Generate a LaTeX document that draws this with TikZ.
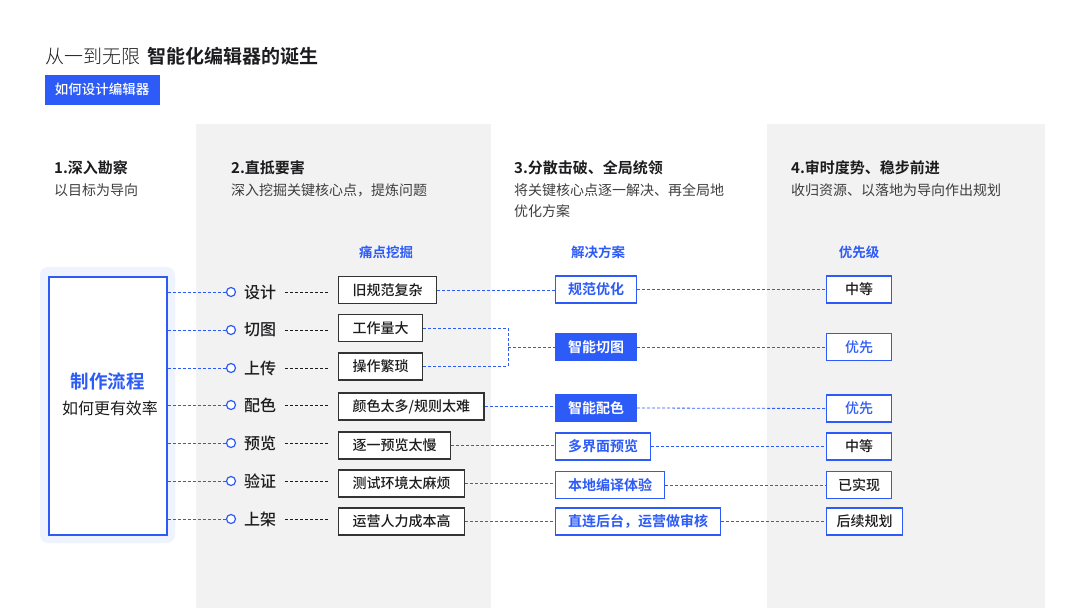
\documentclass[tikz,border=0pt]{standalone}
\usepackage{fontspec}
\setmainfont{Noto Sans CJK SC}[BoldFont={Noto Sans CJK SC Bold}]
\newfontfamily\ligera{Noto Sans CJK SC Light}
\newfontfamily\media{Noto Sans CJK SC Medium}
\usetikzlibrary{positioning}

\definecolor{azul}{HTML}{2D5BF7}
\definecolor{gris}{HTML}{F2F2F2}
\definecolor{celeste}{HTML}{EEF3FE}
\definecolor{tinta}{HTML}{1C1C1E}

\newcommand{\tam}[1]{\fontsize{#1}{#1}\selectfont}

\tikzset{
  titulo/.style={anchor=base west, inner sep=0pt, text=tinta, font=\bfseries\tam{15}},
  nota/.style={anchor=base west, inner sep=0pt, text=tinta!85, font=\tam{14}},
  columna/.style={inner sep=0pt, text=azul, font=\bfseries\tam{13.5}},
  etapa/.style={anchor=west, inner sep=0pt, text=tinta, font=\media\tam{16}},
  punto/.style={circle, draw=azul, fill=white, line width=1.2pt, inner sep=0pt, minimum size=9pt},
  problema/.style={anchor=west, draw=tinta!90, line width=1.1pt, fill=white, minimum height=27pt,
    inner xsep=14pt, text=tinta, font=\media\tam{14}},
  solucion/.style={anchor=west, draw=azul, line width=1.2pt, fill=white, minimum height=27pt,
    inner xsep=12.5pt, text=azul, font=\bfseries\tam{14}},
  lleno/.style={solucion, fill=azul, text=white},
  prioridad/.style={anchor=west, draw=azul, line width=1.2pt, fill=white, minimum height=27pt,
    minimum width=65pt, inner xsep=10pt, text=tinta, font=\media\tam{14}},
  enlace/.style={azul, line width=0.8pt, dash pattern=on 3pt off 2pt},
  guion/.style={tinta, line width=0.7pt, dash pattern=on 3pt off 2pt},
}

\begin{document}
\begin{tikzpicture}[x=1pt, y=-1pt]
    \useasboundingbox (0,0) rectangle (1080,608);

    % Franjas grises
    \fill[gris] (196,124) rectangle (491,608);
    \fill[gris] (767,124) rectangle (1045,608);

    % Titulo y boton
    \node[anchor=base west, inner sep=0pt, text=tinta, font=\ligera\tam{19}] (cab) at (45,63) {从一到无限};
    \node[anchor=base west, inner sep=0pt, text=tinta, font=\bfseries\tam{19}] (cab2) at (147,63) {智能化编辑器的诞生};
    \node[fill=azul, text=white, font=\media\tam{13.5}, minimum width=115pt, minimum height=30pt,
      inner sep=0pt] (boton) at (102,89.5) {如何设计编辑器};

    % Encabezados de las cuatro fases
    \node[titulo] (f1) at (54,173) {1.深入勘察};
    \node[nota] (n1) at (54,195) {以目标为导向};
    \node[titulo] (f2) at (231,173) {2.直抵要害};
    \node[nota] (n2) at (231,195) {深入挖掘关键核心点，提炼问题};
    \node[titulo] (f3) at (514,173) {3.分散击破、全局统领};
    \node[nota] (n3) at (514,195) {将关键核心点逐一解决、再全局地};
    \node[nota] (n3b) at (514,216) {优化方案};
    \node[titulo] (f4) at (791,173) {4.审时度势、稳步前进};
    \node[nota] (n4) at (791,195) {收归资源、以落地为导向作出规划};

    % Titulos de columna
    \node[columna] (col1) at (386,252) {痛点挖掘};
    \node[columna] (col2) at (598,252) {解决方案};
    \node[columna] (col3) at (859,252) {优先级};

    % Caja principal
    \fill[celeste, rounded corners=8pt] (40,267) rectangle (175,543);
    \node[draw=azul, line width=2pt, fill=white, minimum width=118pt, minimum height=258pt,
      inner sep=0pt] (flujo) at (107.5,405.5) {};
    \node[text=azul, font=\bfseries\tam{18.5}, inner sep=0pt] (fl1) at (107.5,381) {制作流程};
    \node[text=tinta, font=\tam{16}, inner sep=0pt] (fl2) at (110,408) {如何更有效率};

    % Etapas del flujo
    \foreach \n/\y/\t in {1/292/设计, 2/330/切图, 3/368/上传, 4/405/配色, 5/443/预览, 6/481/验证, 7/519/上架} {
      \node[punto] (c\n) at (231,\y) {};
      \node[etapa] (e\n) at (244,\y) {\t};
      \draw[enlace] (flujo.east |- c\n) -- (c\n.west);
    }

    % Problemas
    \node[problema] (p1) at (338,290) {旧规范复杂};
    \node[problema] (p2) at (338,328) {工作量大};
    \node[problema] (p3) at (338,366.5) {操作繁琐};
    \node[problema] (p4) at (338,406.5) {颜色太多/规则太难};
    \node[problema] (p5) at (338,445.5) {逐一预览太慢};
    \node[problema] (p6) at (338,483.5) {测试环境太麻烦};
    \node[problema] (p7) at (338,521.5) {运营人力成本高};
    \foreach \n in {1,...,7} {
      \draw[guion, shorten <=9pt, shorten >=8pt] (e\n.east) -- (e\n.east -| p\n.west);
    }

    % Soluciones
    \node[solucion] (s1) at (555,289.5) {规范优化};
    \node[lleno] (s2) at (555,347) {智能切图};
    \node[lleno] (s4) at (555,408) {智能配色};
    \node[solucion] (s5) at (555,446.5) {多界面预览};
    \node[solucion] (s6) at (555,485) {本地编译体验};
    \node[solucion] (s7) at (555,521.5) {直连后台，运营做审核};

    \coordinate (junta) at (508,347);
    \draw[enlace] (p1.east) -- (p1.east -| s1.west);
    \draw[enlace] (p2.east) -- (p2.east -| junta) -- (p3.east -| junta) -- (p3.east);
    \draw[enlace] (junta) -- (s2.west);
    \draw[enlace] (p4.east) -- (p4.east -| s4.west);
    \draw[enlace] (p5.east) -- (p5.east -| s5.west);
    \draw[enlace] (p6.east) -- (p6.east -| s6.west);
    \draw[enlace] (p7.east) -- (p7.east -| s7.west);

    % Prioridades
    \node[prioridad] (r1) at (826,289.5) {中等};
    \node[prioridad, text=azul] (r2) at (826,347) {优先};
    \node[prioridad, text=azul] (r4) at (826,408.5) {优先};
    \node[prioridad] (r5) at (826,446.5) {中等};
    \node[prioridad] (r6) at (826,485) {已实现};
    \node[prioridad] (r7) at (826,521.5) {后续规划};
    \foreach \n in {1,2,4,5,6,7} {
      \draw[enlace] (s\n.east) -- (r\n.west);
    }

\end{tikzpicture}
\end{document}
